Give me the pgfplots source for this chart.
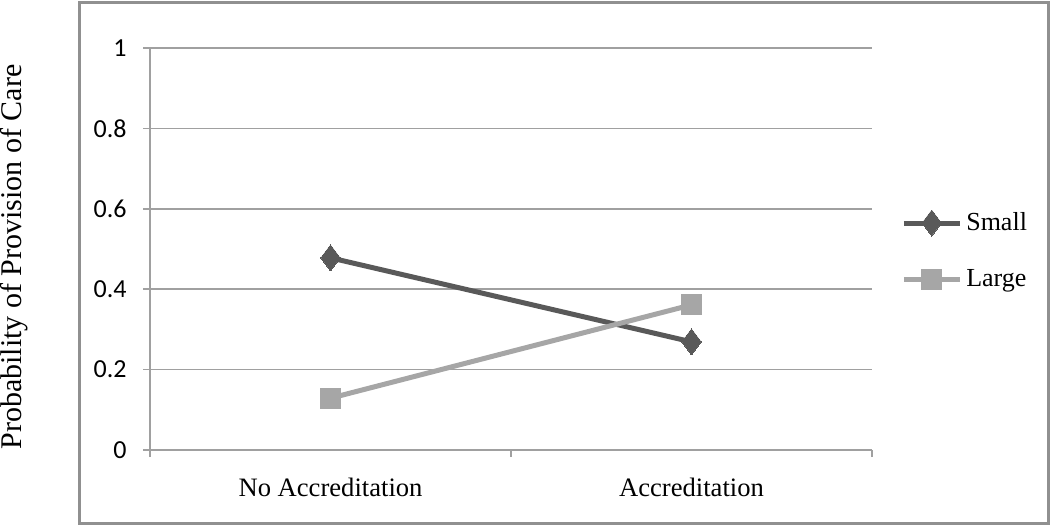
\documentclass[border=0pt]{standalone}
\usepackage{fontspec}
\setmainfont{Liberation Serif}
\newfontfamily\carlito{Carlito}
\usepackage{pgfplots}
\pgfplotsset{compat=1.18}

\definecolor{smallc}{RGB}{89,89,89}
\definecolor{largec}{RGB}{166,166,166}
\definecolor{axisc}{RGB}{160,160,160}

\begin{document}
\begin{tikzpicture}
\begin{axis}[
  width=361pt, height=201pt,
  scale only axis,
  xmin=-0.5, xmax=1.5,
  ymin=0, ymax=1,
  xtick={-0.5,0.5,1.5},
  xticklabels={},
  extra x ticks={0,1},
  extra x tick labels={No Accreditation, Accreditation},
  extra x tick style={tick style={draw=none}},
  ytick={0,0.2,0.4,0.6,0.8,1},
  yticklabels={0,0.2,0.4,0.6,0.8,1},
  axis x line*=bottom,
  axis y line*=left,
  axis line style={axisc, line width=0.8pt, -},
  tick align=outside,
  major tick length=3.5pt,
  every tick/.style={axisc, line width=0.8pt},
  ymajorgrids=true,
  grid style={axisc, line width=0.8pt},
  /pgf/number format/assume math mode=true,
  yticklabel shift=8pt,
  yticklabel style={font=\carlito\fontsize{13}{15}\selectfont, inner sep=0pt},
  xticklabel style={font=\fontsize{13.3}{16}\selectfont, inner sep=0pt, yshift=-10.5pt},
  ylabel={Probability of Provision of Care},
  ylabel style={at={(axis description cs:-0.1884,0.48)}, anchor=center, font=\fontsize{15}{18}\selectfont},
  legend style={at={(axis description cs:1.04,0.495)}, anchor=west, draw=none, fill=none,
    font=\fontsize{13}{15}\selectfont, row sep=14pt, inner sep=0pt},
  legend cell align=left,
  legend image code/.code={\draw[mark repeat=2, mark phase=2] plot coordinates {(0pt,0pt)(14pt,0pt)(28pt,0pt)};},
  clip=false,
]
\addplot[smallc, line width=2.5pt, mark=diamond*, mark size=6.5pt, mark options={solid, line width=0pt}]
  coordinates {(0,0.478) (1,0.269)};
\addlegendentry{Small}
\addplot[largec, line width=2.5pt, mark=square*, mark size=5pt, mark options={solid, line width=0pt}]
  coordinates {(0,0.129) (1,0.361)};
\addlegendentry{Large}

\draw[axisc!90!black, line width=1.5pt] (axis description cs:-0.097,-0.184) rectangle (axis description cs:1.2438,1.112);
\coordinate (bbl) at (axis description cs:-0.2078,-0.1915);
\coordinate (btr) at (axis description cs:1.2465,1.1194);
\end{axis}
\pgfresetboundingbox
\path (bbl) rectangle (btr);
\end{tikzpicture}
\end{document}
